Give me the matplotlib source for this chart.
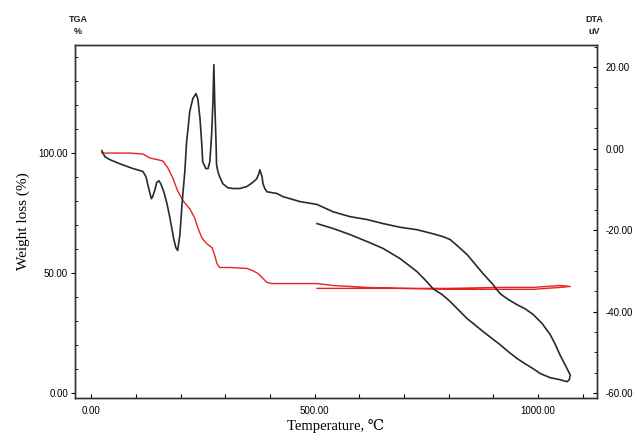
import matplotlib
matplotlib.use("Agg")
import matplotlib.pyplot as plt
from matplotlib.ticker import MultipleLocator, FormatStrFormatter

plt.rcParams['axes.unicode_minus'] = False

# DTA (uV) - heating branch
dta_heat_temp = [23, 30, 41, 63, 93, 115, 122, 126, 131, 134, 137, 142, 146, 151, 155, 162,
                 169, 175, 180, 184, 189, 193, 198, 202, 205, 209, 213, 216, 220, 227, 234,
                 238, 243, 247, 249, 256, 261, 265, 269, 272, 274, 276, 279, 280, 283, 287,
                 294, 305, 317, 332, 348, 361, 370, 375, 377, 382, 384, 388, 393, 404, 415,
                 429, 467, 505, 541, 579, 617, 653, 691, 729, 765, 787, 803, 821, 841, 858,
                 877, 897, 915, 933, 953, 971, 989, 1009, 1027, 1038, 1049, 1057, 1065, 1072]
dta_heat_val = [-0.5, -2.0, -2.7, -3.7, -4.9, -5.6, -6.9, -8.8, -11.0, -12.3, -11.8, -10.1,
                -8.3, -7.9, -8.6, -10.6, -13.5, -16.7, -19.6, -22.1, -24.3, -25.0, -21.1,
                -14.7, -10.6, -5.6, 1.7, 4.7, 9.1, 12.3, 13.5, 12.3, 7.4, 1.0, -3.2, -4.9,
                -4.9, -3.2, 3.4, 11.5, 20.6, 11.5, 1.0, -3.9, -5.6, -6.9, -8.6, -9.6, -9.8,
                -9.8, -9.3, -8.3, -7.4, -6.1, -5.2, -6.9, -8.6, -9.8, -10.6, -10.8, -11.0,
                -11.8, -13.0, -13.7, -15.5, -16.7, -17.4, -18.4, -19.3, -19.9, -20.9, -21.6,
                -22.3, -24.0, -26.0, -28.2, -30.7, -33.1, -35.6, -37.0, -38.3, -39.3, -40.7,
                -42.9, -45.6, -47.9, -50.6, -52.3, -54.0, -55.5]
# DTA (uV) - cooling branch
dta_cool_temp = [1072, 1070, 1065, 1049, 1027, 1005, 989, 971, 953, 933, 915, 897, 877, 858,
                 841, 821, 803, 785, 765, 747, 729, 709, 691, 653, 617, 579, 541, 505]
dta_cool_val = [-55.5, -56.7, -57.2, -56.7, -56.2, -55.2, -54.0, -52.8, -51.5, -49.8, -48.1,
                -46.6, -44.9, -43.2, -41.7, -39.5, -37.5, -35.8, -34.4, -32.2, -30.2, -28.5,
                -27.0, -24.5, -22.8, -21.1, -19.6, -18.4]

# TGA (%) - heating then cooling
tga_temp = [23, 86, 115, 131, 142, 160, 171, 182, 193, 205, 220, 231, 238, 247, 258, 270,
            276, 281, 287, 310, 348, 361, 373, 382, 393, 404, 445, 505, 541, 617, 691, 729,
            803, 915, 989, 1049, 1072,
            1049, 989, 915, 803, 691, 579, 505]
tga_val = [100.0, 100.0, 99.6, 97.9, 97.5, 96.7, 93.8, 89.6, 84.2, 80.1, 76.8, 73.0, 68.9,
           64.7, 62.2, 60.6, 57.3, 53.9, 52.3, 52.3, 51.9, 51.0, 49.8, 48.1, 46.1, 45.6,
           45.6, 45.6, 44.8, 44.0, 43.6, 43.6, 43.6, 44.0, 44.0, 44.8, 44.4,
           44.0, 43.2, 43.2, 43.2, 43.6, 43.6, 43.6]

x_ticks = [0, 500, 1000]
tga_ticks = [0, 50, 100]
dta_ticks = [-60, -40, -20, 0, 20]

fig = plt.figure(figsize=(6.37, 4.42), dpi=100)
ax = fig.add_axes([0.1177, 0.0995, 0.8195, 0.7985])
ax2 = ax.twinx()

tick_family = ['Liberation Sans Narrow', 'Liberation Sans', 'DejaVu Sans']

ax.plot(tga_temp, tga_val, color='#e8231f', lw=1.0, zorder=3)
ax2.plot(dta_heat_temp + dta_cool_temp, dta_heat_val + dta_cool_val, color='#2a2a2a', lw=1.2)

ax.set_xlim(-37, 1132)
ax.set_ylim(-2.1, 145)
ax2.set_ylim(-61.2, 25.4)

ax.set_xticks(x_ticks)
ax.set_yticks(tga_ticks)
ax2.set_yticks(dta_ticks)
ax.xaxis.set_minor_locator(MultipleLocator(100))
ax.yaxis.set_minor_locator(MultipleLocator(10))
ax2.yaxis.set_minor_locator(MultipleLocator(5))
ax.xaxis.set_major_formatter(FormatStrFormatter('%.2f'))
ax.yaxis.set_major_formatter(FormatStrFormatter('%.2f'))
ax2.yaxis.set_major_formatter(FormatStrFormatter('%.2f'))

ax.tick_params(axis='x', which='both', direction='in', length=3, width=0.8, pad=6, top=False)
ax.tick_params(axis='y', which='major', direction='out', length=3, width=0.8, pad=2)
ax.tick_params(axis='y', which='minor', direction='in', length=2, width=0.6)
ax2.tick_params(axis='y', which='both', direction='in', length=3, width=0.8, pad=6)
ax2.tick_params(axis='y', which='minor', length=2, width=0.6)

for lab in ax.get_xticklabels() + ax.get_yticklabels() + ax2.get_yticklabels():
    lab.set_fontfamily(tick_family)
    lab.set_fontsize(7)

for a in (ax, ax2):
    for s in a.spines.values():
        s.set_linewidth(1.0)
        s.set_color('#333333')

serif = ['Liberation Serif', 'DejaVu Serif']
ax.set_ylabel('Weight loss (%)', fontsize=11, family=serif, labelpad=6)
ax.set_xlabel('Temperature, \u2103', fontsize=10.5, family=serif, labelpad=2)

for x, y, s in [(78, 20, 'TGA'), (78, 32, '%'), (594, 20, 'DTA'), (594, 32, 'uV')]:
    fig.text(x / 637, 1 - y / 442, s, ha='center', va='center', fontsize=6.5,
             family=tick_family, fontweight='bold', color='#222222')

fig.savefig('out.png', dpi=100)
